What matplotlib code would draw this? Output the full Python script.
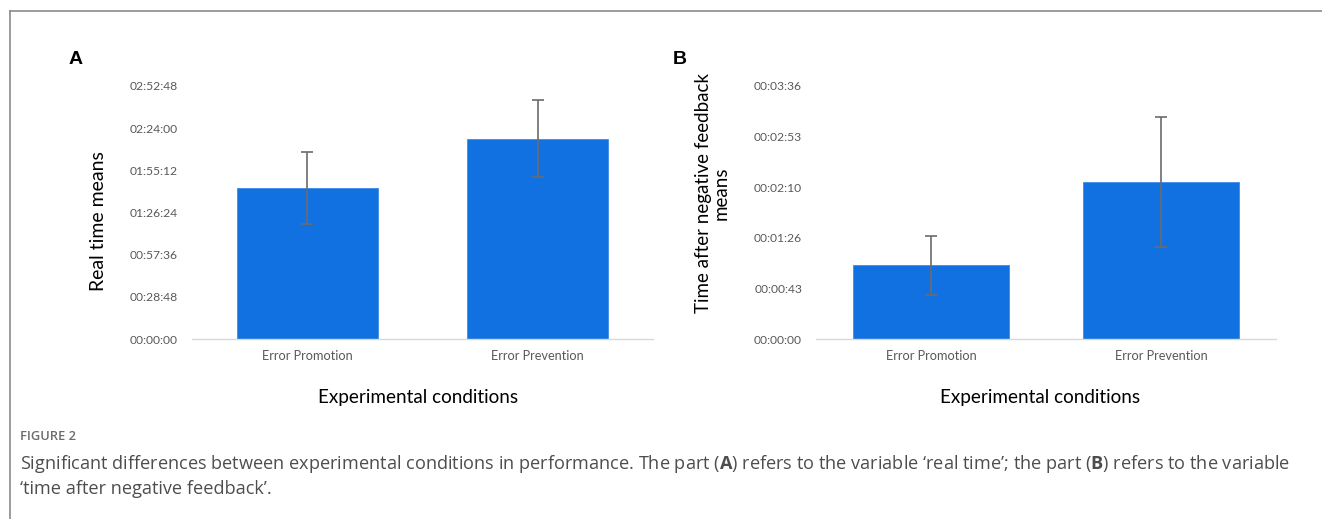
import matplotlib.pyplot as plt
from matplotlib.lines import Line2D

# data, values in seconds
conditions = ["Error Promotion", "Error Prevention"]

real_time_means = [6176, 8208]        # ~01:42:56, ~02:16:48
real_time_err = [1475, 1570]
real_time_step = 1728                 # 00:28:48
real_time_ticklabels = ["00:00:00", "00:28:48", "00:57:36", "01:26:24",
                        "01:55:12", "02:24:00", "02:52:48"]

feedback_means = [62.9, 134.0]
feedback_err = [25.3, 55.5]
feedback_step = 43.2
feedback_ticklabels = ["00:00:00", "00:00:43", "00:01:26", "00:02:10",
                       "00:02:53", "00:03:36"]

BAR_COLOR = "#1271e0"
TICK_COLOR = "#595959"
W, H = 1322, 519

plt.rcParams["mathtext.fontset"] = "custom"
plt.rcParams["mathtext.bf"] = "Open Sans:bold"
plt.rcParams["mathtext.rm"] = "Open Sans"


def draw_panel(ax, means, errs, step, ticklabels, bar_width):
    x = range(len(conditions))
    ax.bar(x, means, width=bar_width, color=BAR_COLOR, edgecolor="#3d8ae8",
           linewidth=0.6, zorder=2)
    ax.errorbar(x, means, yerr=errs, fmt="none", ecolor="#6b6b6b",
                elinewidth=1.2, capsize=4, capthick=1.2, zorder=3)
    ax.set_xlim(-0.5, len(conditions) - 0.5)
    ticks = [i * step for i in range(len(ticklabels))]
    ax.set_ylim(0, ticks[-1])
    ax.set_yticks(ticks)
    ax.set_yticklabels(ticklabels, fontfamily="Lato", fontsize=8.7, color=TICK_COLOR)
    ax.set_xticks(list(x))
    ax.set_xticklabels(conditions, fontfamily="Lato", fontsize=9.2, color=TICK_COLOR)
    ax.tick_params(axis="y", length=0, pad=10)
    ax.tick_params(axis="x", length=0, pad=8)
    for s in ["top", "right", "left"]:
        ax.spines[s].set_visible(False)
    ax.spines["bottom"].set_color("#d9d9d9")
    ax.spines["bottom"].set_linewidth(1.0)


fig = plt.figure(figsize=(W / 100, H / 100), dpi=100)

# panel A
axA = fig.add_axes([192 / W, 1 - 339 / H, 461 / W, 253 / H])
draw_panel(axA, real_time_means, real_time_err, real_time_step,
           real_time_ticklabels, 0.61)
# panel B
axB = fig.add_axes([816 / W, 1 - 339 / H, 460 / W, 253 / H])
draw_panel(axB, feedback_means, feedback_err, feedback_step,
           feedback_ticklabels, 0.68)

# axis titles
fig.text(98 / W, 1 - 221 / H, "Real time means", rotation=90, ha="center",
         va="center", fontfamily="Lato", fontsize=14)
fig.text(712 / W, 1 - 193 / H, "Time after negative feedback\nmeans", rotation=90,
         ha="center", va="center", multialignment="center", fontfamily="Lato",
         fontsize=13.5, linespacing=1.05)
fig.text(418 / W, 1 - 397 / H, "Experimental conditions", ha="center", va="center",
         fontfamily="Lato", fontsize=13.6)
fig.text(1040 / W, 1 - 397 / H, "Experimental conditions", ha="center", va="center",
         fontfamily="Lato", fontsize=13.6)

# panel letters
fig.text(76 / W, 1 - 60 / H, "A", ha="center", va="center", fontsize=14,
         fontweight="bold", fontfamily="Liberation Sans")
fig.text(680 / W, 1 - 60 / H, "B", ha="center", va="center", fontsize=14,
         fontweight="bold", fontfamily="Liberation Sans")

# caption
fig.text(20 / W, 1 - 436 / H, "FIGURE 2", ha="left", va="center", fontsize=9.3,
         fontweight="semibold", color="#6b6b6b", fontfamily="Open Sans")
fig.text(20 / W, 1 - 464 / H,
         "Significant differences between experimental conditions in performance. "
         "The part ($\\bf{A}$) refers to the variable \u2018real time\u2019; "
         "the part ($\\bf{B}$) refers to the variable",
         ha="left", va="center", fontsize=13.1, color="#4d4d4d", fontfamily="Open Sans")
fig.text(20 / W, 1 - 489 / H, "\u2018time after negative feedback\u2019.",
         ha="left", va="center", fontsize=13.1, color="#4d4d4d", fontfamily="Open Sans")

# frame lines around the figure box
fig.add_artist(Line2D([10 / W, 1], [1 - 11 / H, 1 - 11 / H], color="#8a8a8a",
                      linewidth=1.2, transform=fig.transFigure))
fig.add_artist(Line2D([10 / W, 10 / W], [0, 1 - 11 / H], color="#8a8a8a",
                      linewidth=1.2, transform=fig.transFigure))

fig.savefig("out.png", dpi=100)
